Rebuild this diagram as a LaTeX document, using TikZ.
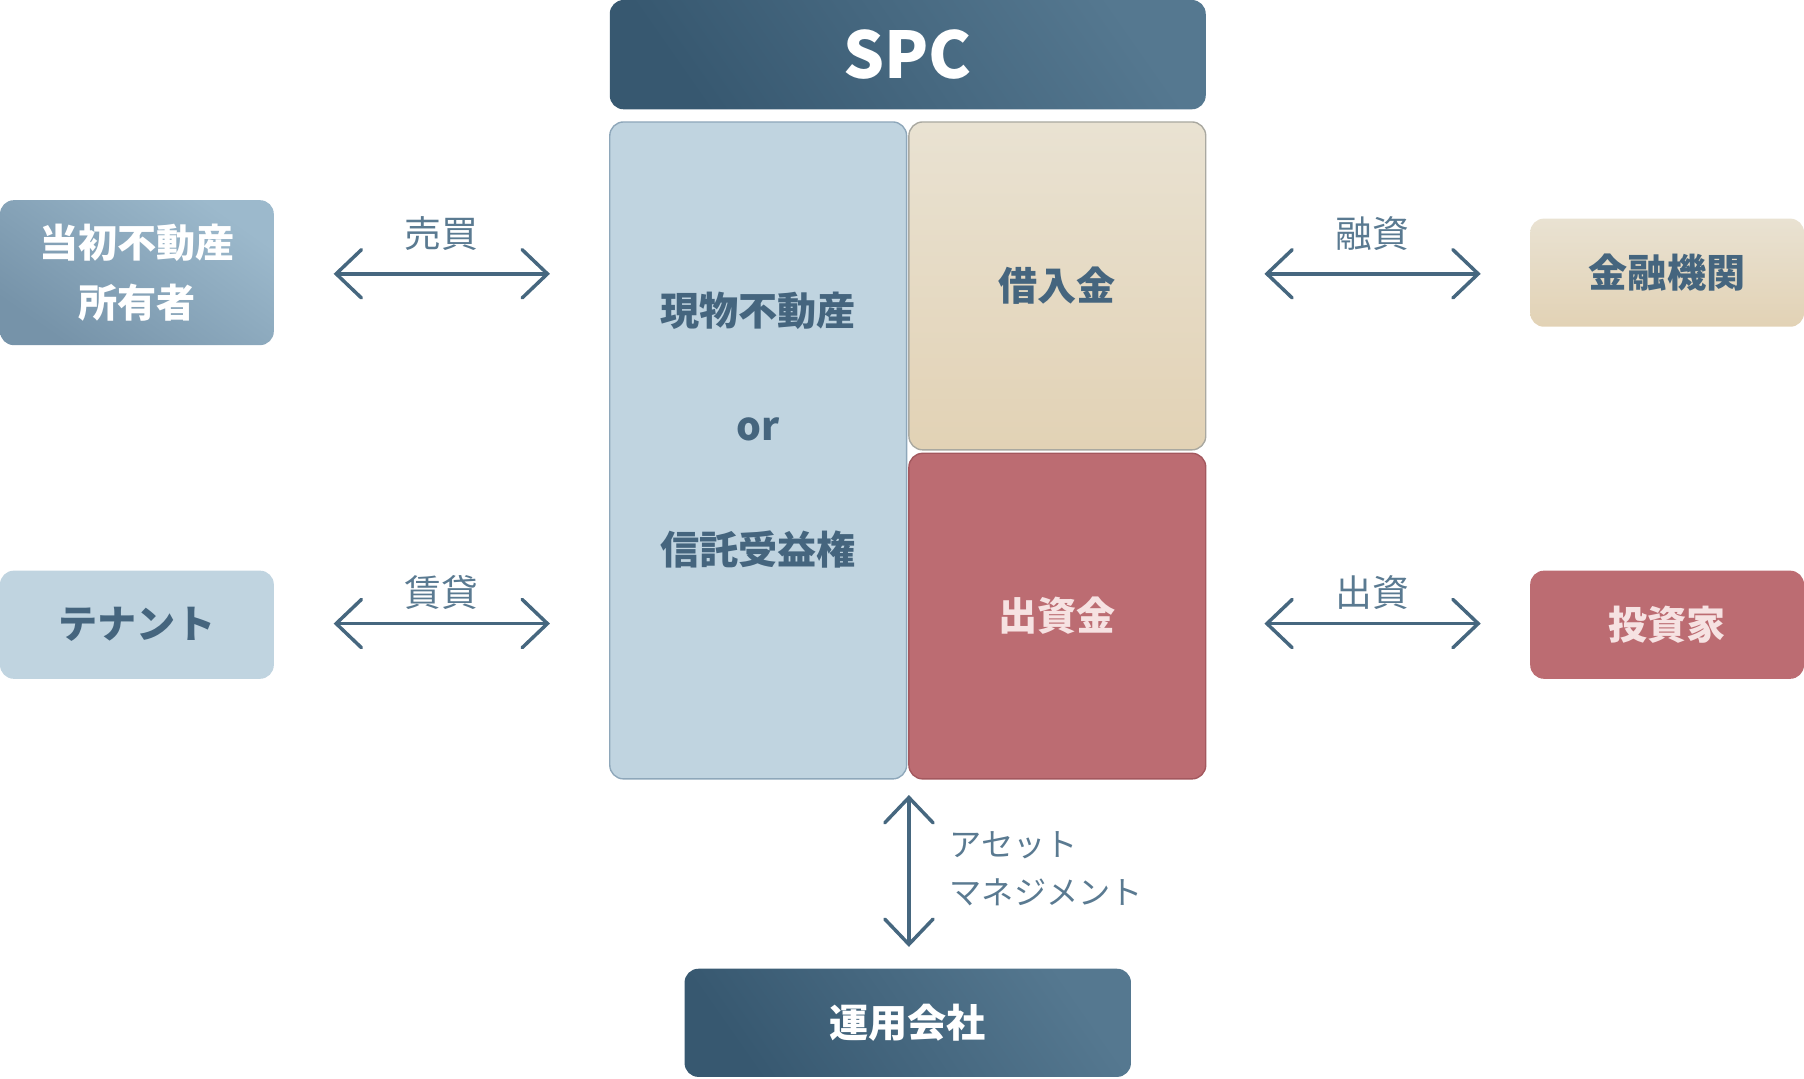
\documentclass[tikz,border=0pt]{standalone}
\usepackage{fontspec}
\setmainfont{Noto Sans CJK JP}
\usetikzlibrary{arrows.meta,calc}
\definecolor{navyA}{HTML}{375870}
\definecolor{navyB}{HTML}{557890}
\definecolor{steelA}{HTML}{7693A9}
\definecolor{steelB}{HTML}{9CB9CC}
\definecolor{paleblue}{HTML}{C0D4E0}
\definecolor{paleborder}{HTML}{8EA7BA}
\definecolor{beigeA}{HTML}{E9E2D2}
\definecolor{beigeB}{HTML}{E2D2B5}
\definecolor{beigeborder}{HTML}{A9A8A0}
\definecolor{rose}{HTML}{BC6C72}
\definecolor{roseborder}{HTML}{A3585E}
\definecolor{rosetext}{HTML}{F6E2E2}
\definecolor{inkblue}{HTML}{45657E}
\definecolor{labelblue}{HTML}{5A7A91}
\definecolor{arrowblue}{HTML}{46677F}
\begin{document}
\begin{tikzpicture}[x=0.5pt,y=-0.5pt,
  box/.style={rounded corners=6pt, inner sep=0pt, align=center,
    font=\bfseries\fontsize{17}{26}\selectfont},
  darkbox/.style={box, left color=navyA, right color=navyB, shading angle=125, text=white},
  steelbox/.style={box, left color=steelA, right color=steelB, shading angle=145, text=white},
  palebox/.style={box, fill=paleblue, text=inkblue},
  beigebox/.style={box, top color=beigeA, bottom color=beigeB, text=inkblue},
  rosebox/.style={box, fill=rose, text=rosetext},
  inner/.style={font=\bfseries\fontsize{17}{26}\selectfont, text=inkblue, inner sep=0pt},
  lbl/.style={font=\fontsize{16}{20}\selectfont, text=labelblue, inner sep=0pt},
  dbl/.style={draw=arrowblue, line width=1.5pt, line cap=round,
    {Straight Barb[length=11pt,width=21pt,line width=1.5pt,line cap=round]}-{Straight Barb[length=11pt,width=21pt,line width=1.5pt,line cap=round]}}
]
\useasboundingbox (0,0) rectangle (1568,937);

% SPC
\node[darkbox, minimum width=259pt, minimum height=47.5pt,
  font=\bfseries\fontsize{28}{28}\selectfont] (spc) at (789,47.5) {SPC};

% inner boxes
\node[palebox, draw=paleborder, line width=0.6pt, minimum width=129pt, minimum height=285.5pt] (asset) at (659,391.5) {};
\node[inner] (t1) at (659,270) {現物不動産};
\node[inner] (t2) at (659,373) {or};
\node[inner] (t3) at (659,478) {信託受益権};
\node[beigebox, draw=beigeborder, line width=0.6pt, minimum width=129pt, minimum height=142.5pt] (debt) at (919,248.5) {借入金};
\node[rosebox, draw=roseborder, line width=0.6pt, minimum width=129pt, minimum height=141.5pt] (equity) at (919,535.5) {出資金};

% outer parties
\node[steelbox, minimum width=119pt, minimum height=63pt] (owner) at (119,237) {当初不動産\\所有者};
\node[palebox, minimum width=119pt, minimum height=47pt] (tenant) at (119,543) {テナント};
\node[beigebox, minimum width=119pt, minimum height=47pt] (bank) at (1449,237) {金融機関};
\node[rosebox, minimum width=119pt, minimum height=47pt] (investor) at (1449,543) {投資家};
\node[darkbox, minimum width=194pt, minimum height=47pt] (am) at (789,889) {運用会社};

% arrow end points
\coordinate (a1) at (290,238);  \coordinate (b1) at (478,238);
\coordinate (a2) at (290,542);  \coordinate (b2) at (478,542);
\coordinate (a3) at (1099,238); \coordinate (b3) at (1287,238);
\coordinate (a4) at (1099,542); \coordinate (b4) at (1287,542);
\coordinate (a5) at (790,691);  \coordinate (b5) at (790,823);

\draw[dbl] (a1) -- (b1);
\draw[dbl] (a2) -- (b2);
\draw[dbl] (a3) -- (b3);
\draw[dbl] (a4) -- (b4);
\draw[dbl] (a5) -- (b5);

% labels
\node[lbl] (l1) at (384,203) {売買};
\node[lbl] (l2) at (384,515) {賃貸};
\node[lbl] (l3) at (1193,203) {融資};
\node[lbl] (l4) at (1193,515) {出資};
\node[lbl, anchor=west, font=\fontsize{14}{20}\selectfont] (l5) at (825,735) {アセット};
\node[lbl, anchor=west, font=\fontsize{14}{20}\selectfont] (l6) at (825,776) {マネジメント};
\end{tikzpicture}
\end{document}
